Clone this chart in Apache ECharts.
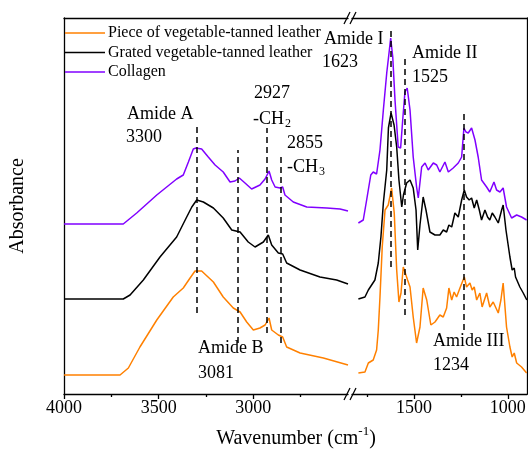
<!DOCTYPE html>
<html>
<head>
<meta charset="utf-8">
<script src="https://cdn.jsdelivr.net/npm/echarts@6/dist/echarts.min.js"></script>
<style>
  html, body { margin: 0; padding: 0; background: #fff; }
  #chart { width: 528px; height: 450px; }
</style>
</head>
<body>
<div id="chart"></div>
<script>
// FTIR spectra, broken wavenumber axis (4000-2500 | 1830-900)
const names = ['Piece of vegetable-tanned leather', 'Grated vegetable-tanned leather', 'Collagen'];
const colors = ['#ff8000', '#000000', '#8000ff'];

// high wavenumber part
const wnHighPurple = [4000,3687,3616,3510,3405,3370,3343,3317,3303,3273,3238,3202,3159,3123,3097,3074,3044,3009,2965,2938,2917,2903,2885,2859,2845,2833,2789,2718,2612,2542,2500];
const absHighPurple = [1.70,1.70,1.81,1.99,2.15,2.19,2.32,2.45,2.46,2.45,2.37,2.29,2.22,2.12,2.13,2.16,2.11,2.05,2.09,2.15,2.23,2.14,2.07,2.06,2.07,1.99,1.92,1.87,1.86,1.85,1.83];

const wnHighBlack = [4000,3687,3651,3581,3493,3405,3352,3325,3299,3264,3211,3159,3114,3070,3027,2991,2947,2921,2903,2868,2845,2824,2753,2648,2560,2500];
const absHighBlack = [0.95,0.95,0.99,1.14,1.37,1.57,1.77,1.87,1.94,1.92,1.86,1.76,1.64,1.62,1.52,1.47,1.52,1.59,1.49,1.41,1.40,1.31,1.24,1.17,1.14,1.10];

const wnHighOrange = [4000,3704,3660,3599,3510,3423,3370,3334,3308,3273,3211,3159,3106,3070,3035,3000,2965,2938,2917,2903,2868,2845,2824,2753,2630,2500];
const absHighOrange = [0.19,0.19,0.26,0.47,0.74,0.97,1.06,1.16,1.23,1.23,1.12,0.97,0.86,0.82,0.72,0.64,0.66,0.69,0.76,0.64,0.59,0.57,0.47,0.41,0.36,0.29];

// fingerprint part
const wnLowPurple = [1796,1770,1752,1730,1717,1699,1681,1663,1645,1631,1624,1613,1601,1584,1571,1560,1548,1536,1521,1504,1486,1477,1459,1441,1424,1397,1379,1362,1335,1317,1291,1264,1246,1234,1223,1211,1193,1175,1158,1140,1113,1096,1074,1060,1042,1025,1007,980,953,927,900];
const absLowPurple = [1.71,1.74,1.94,2.19,2.22,2.20,2.44,2.84,3.21,3.44,3.56,3.37,2.94,2.47,2.46,2.74,3.02,3.06,2.84,2.37,2.07,1.96,2.27,2.31,2.24,2.31,2.29,2.22,2.32,2.22,2.26,2.31,2.37,2.66,2.62,2.61,2.66,2.54,2.37,2.14,2.07,2.02,2.12,2.04,2.02,2.06,1.87,1.76,1.79,1.77,1.74];

const wnLowBlack = [1796,1761,1743,1708,1690,1676,1663,1645,1636,1622,1606,1592,1580,1565,1556,1539,1521,1504,1489,1480,1468,1451,1436,1415,1388,1362,1344,1326,1314,1299,1282,1264,1246,1232,1220,1206,1193,1179,1166,1152,1140,1122,1108,1096,1083,1069,1051,1033,1025,1010,989,977,966,959,936,918,899];
const absLowBlack = [0.95,0.97,1.04,1.14,1.31,1.57,1.91,2.24,2.66,2.81,2.69,2.47,2.14,1.87,1.99,2.11,2.14,2.06,1.84,1.44,1.69,1.97,1.84,1.62,1.59,1.59,1.64,1.62,1.69,1.67,1.81,1.77,1.94,2.04,1.97,1.94,1.96,1.86,1.94,1.84,1.74,1.84,1.77,1.74,1.81,1.77,1.71,1.84,1.89,1.64,1.37,1.24,1.26,1.17,1.07,1.01,0.94];

const wnLowOrange = [1796,1761,1743,1717,1699,1690,1681,1669,1654,1637,1619,1605,1592,1580,1569,1557,1548,1534,1521,1504,1486,1468,1451,1432,1410,1388,1362,1344,1326,1314,1299,1286,1273,1255,1232,1220,1202,1190,1179,1166,1149,1137,1113,1096,1078,1051,1037,1025,1007,989,977,966,953,927,900];
const absLowOrange = [0.21,0.22,0.31,0.34,0.44,0.64,0.97,1.47,1.84,1.89,2.06,1.81,1.24,0.92,1.01,1.27,1.29,1.14,1.07,0.77,0.51,0.67,1.06,0.94,0.69,0.72,0.79,0.77,0.86,1.06,0.94,1.02,0.97,1.06,1.17,1.07,1.11,1.04,1.07,0.94,1.01,0.87,1.01,0.87,0.92,0.81,0.94,1.11,0.67,0.47,0.37,0.41,0.31,0.27,0.21];

// dashed guide lines: [wavenumber, from, to]
const guidesHigh = [[3300,0.81,2.67],[3081,0.51,2.44],[2927,0.61,2.66],[2855,0.51,2.39]];
const guidesLow = [[1623,1.27,3.67],[1548,0.79,3.39],[1234,0.64,2.81]];

const ticksHigh = [4000,3500,3000];
const minorHigh = [3750,3250,2750];
const ticksLow = [1500,1000];
const minorLow = [1750,1250];

const FONT = 'Liberation Serif';

function zip(a, b) {
  return a.map((v, i) => [v, b[i]]);
}
function guideLines(list) {
  return list.map(g => [{coord: [g[0], g[1]]}, {coord: [g[0], g[2]]}]);
}

const chart = echarts.init(document.getElementById('chart'), null, {renderer: 'canvas'});

const lineBase = {type: 'line', symbol: 'none', smooth: false, animation: false};

const seriesList = [];
const high = [absHighOrange, absHighBlack, absHighPurple];
const highX = [wnHighOrange, wnHighBlack, wnHighPurple];
const low = [absLowOrange, absLowBlack, absLowPurple];
const lowX = [wnLowOrange, wnLowBlack, wnLowPurple];
for (let i = 0; i < 3; i++) {
  seriesList.push(Object.assign({}, lineBase, {
    name: names[i], xAxisIndex: 0, yAxisIndex: 0,
    itemStyle: {color: colors[i]}, lineStyle: {width: 1.5, color: colors[i]},
    data: zip(highX[i], high[i])
  }));
  seriesList.push(Object.assign({}, lineBase, {
    name: names[i], xAxisIndex: 1, yAxisIndex: 1,
    itemStyle: {color: colors[i]}, lineStyle: {width: 1.5, color: colors[i]},
    data: zip(lowX[i], low[i])
  }));
}
const dash = {type: [6, 4], color: '#000', width: 1.5};
seriesList[4].markLine = {silent: true, symbol: 'none', label: {show: false}, lineStyle: dash, data: guideLines(guidesHigh)};
seriesList[5].markLine = {silent: true, symbol: 'none', label: {show: false}, lineStyle: dash, data: guideLines(guidesLow)};

const axLine = {show: true, lineStyle: {color: '#000', width: 1.3}};
const lbl = {color: '#000', fontFamily: FONT, fontSize: 18, margin: 5, formatter: v => String(v)};

function xMain(grid, min, max, ticks) {
  return {
    type: 'value', gridIndex: grid, min: min, max: max, inverse: true, position: 'bottom',
    axisLine: axLine, splitLine: {show: false},
    axisTick: {show: true, inside: false, length: 5, customValues: ticks, lineStyle: {color: '#000', width: 1.3}},
    axisLabel: Object.assign({customValues: ticks}, lbl)
  };
}
function xMinor(grid, min, max, ticks) {
  return {
    type: 'value', gridIndex: grid, min: min, max: max, inverse: true, position: 'bottom',
    axisLine: {show: false}, splitLine: {show: false}, axisLabel: {show: false},
    axisTick: {show: true, length: 3, customValues: ticks, lineStyle: {color: '#000', width: 1.3}}
  };
}
function xTop(grid, min, max) {
  return {
    type: 'value', gridIndex: grid, min: min, max: max, inverse: true, position: 'top',
    axisLine: axLine, splitLine: {show: false}, axisTick: {show: false}, axisLabel: {show: false}
  };
}

function txt(x, y, s, size) {
  return {type: 'text', x: x, y: y, style: {text: s, fill: '#000', font: (size || 18) + 'px "' + FONT + '"', textVerticalAlign: 'middle'}, silent: true};
}
function slash(x, y) {
  return {type: 'line', shape: {x1: x - 3, y1: y + 6, x2: x + 3, y2: y - 6}, style: {stroke: '#000', lineWidth: 1.2}, silent: true};
}

const option = {
  backgroundColor: '#fff',
  animation: false,
  legend: {
    orient: 'vertical', left: 65, top: 25, padding: 0,
    icon: 'rect', itemWidth: 40, itemHeight: 1.6, itemGap: 3.5,
    data: names,
    textStyle: {color: '#000', fontFamily: FONT, fontSize: 16, lineHeight: 16, padding: [0, 0, 0, -2]},
    selectedMode: false
  },
  grid: [
    {left: 64, top: 18, width: 284, height: 376, outerBoundsMode: 'none'},
    {left: 352, top: 18, width: 175, height: 376, outerBoundsMode: 'none'}
  ],
  xAxis: [
    xMain(0, 2500, 4000, ticksHigh),
    xMain(1, 898, 1830, ticksLow),
    xMinor(0, 2500, 4000, minorHigh),
    xMinor(1, 898, 1830, minorLow),
    xTop(0, 2500, 4000),
    xTop(1, 898, 1830)
  ],
  yAxis: [
    {type: 'value', gridIndex: 0, min: 0, max: 3.76, axisLine: axLine, axisTick: {show: false}, axisLabel: {show: false}, splitLine: {show: false},
     name: 'Absorbance', nameLocation: 'middle', nameGap: 36, nameRotate: 90,
     nameTextStyle: {color: '#000', fontFamily: FONT, fontSize: 20}},
    {type: 'value', gridIndex: 1, min: 0, max: 3.76, position: 'right', axisLine: axLine, axisTick: {show: false}, axisLabel: {show: false}, splitLine: {show: false}}
  ],
  series: seriesList,
  graphic: [
    txt(127, 114, 'Amide A'), txt(126, 137, '3300'),
    txt(254, 93, '2927'), txt(253, 119, '-CH'), txt(285, 124, '2', 12),
    txt(287, 143, '2855'), txt(287, 167, '-CH'), txt(319, 172, '3', 12),
    txt(324, 39, 'Amide I'), txt(322, 62, '1623'),
    txt(412, 53, 'Amide II'), txt(412, 77, '1525'),
    txt(198, 348, 'Amide B'), txt(198, 373, '3081'),
    txt(433, 341, 'Amide III'), txt(433, 365, '1234'),
    {type: 'text', x: 296, y: 437, silent: true, style: {
      text: '{a|Wavenumber (cm}{s|-1}{a|)}', textAlign: 'center', textVerticalAlign: 'middle',
      rich: {a: {fontFamily: FONT, fontSize: 20, color: '#000', lineHeight: 24, verticalAlign: 'bottom'},
             s: {fontFamily: FONT, fontSize: 13, color: '#000', lineHeight: 24, verticalAlign: 'top'}}
    }},
    slash(347, 394), slash(353, 394),
    slash(347, 18), slash(353, 18)
  ]
};
chart.setOption(option);
</script>
</body>
</html>
